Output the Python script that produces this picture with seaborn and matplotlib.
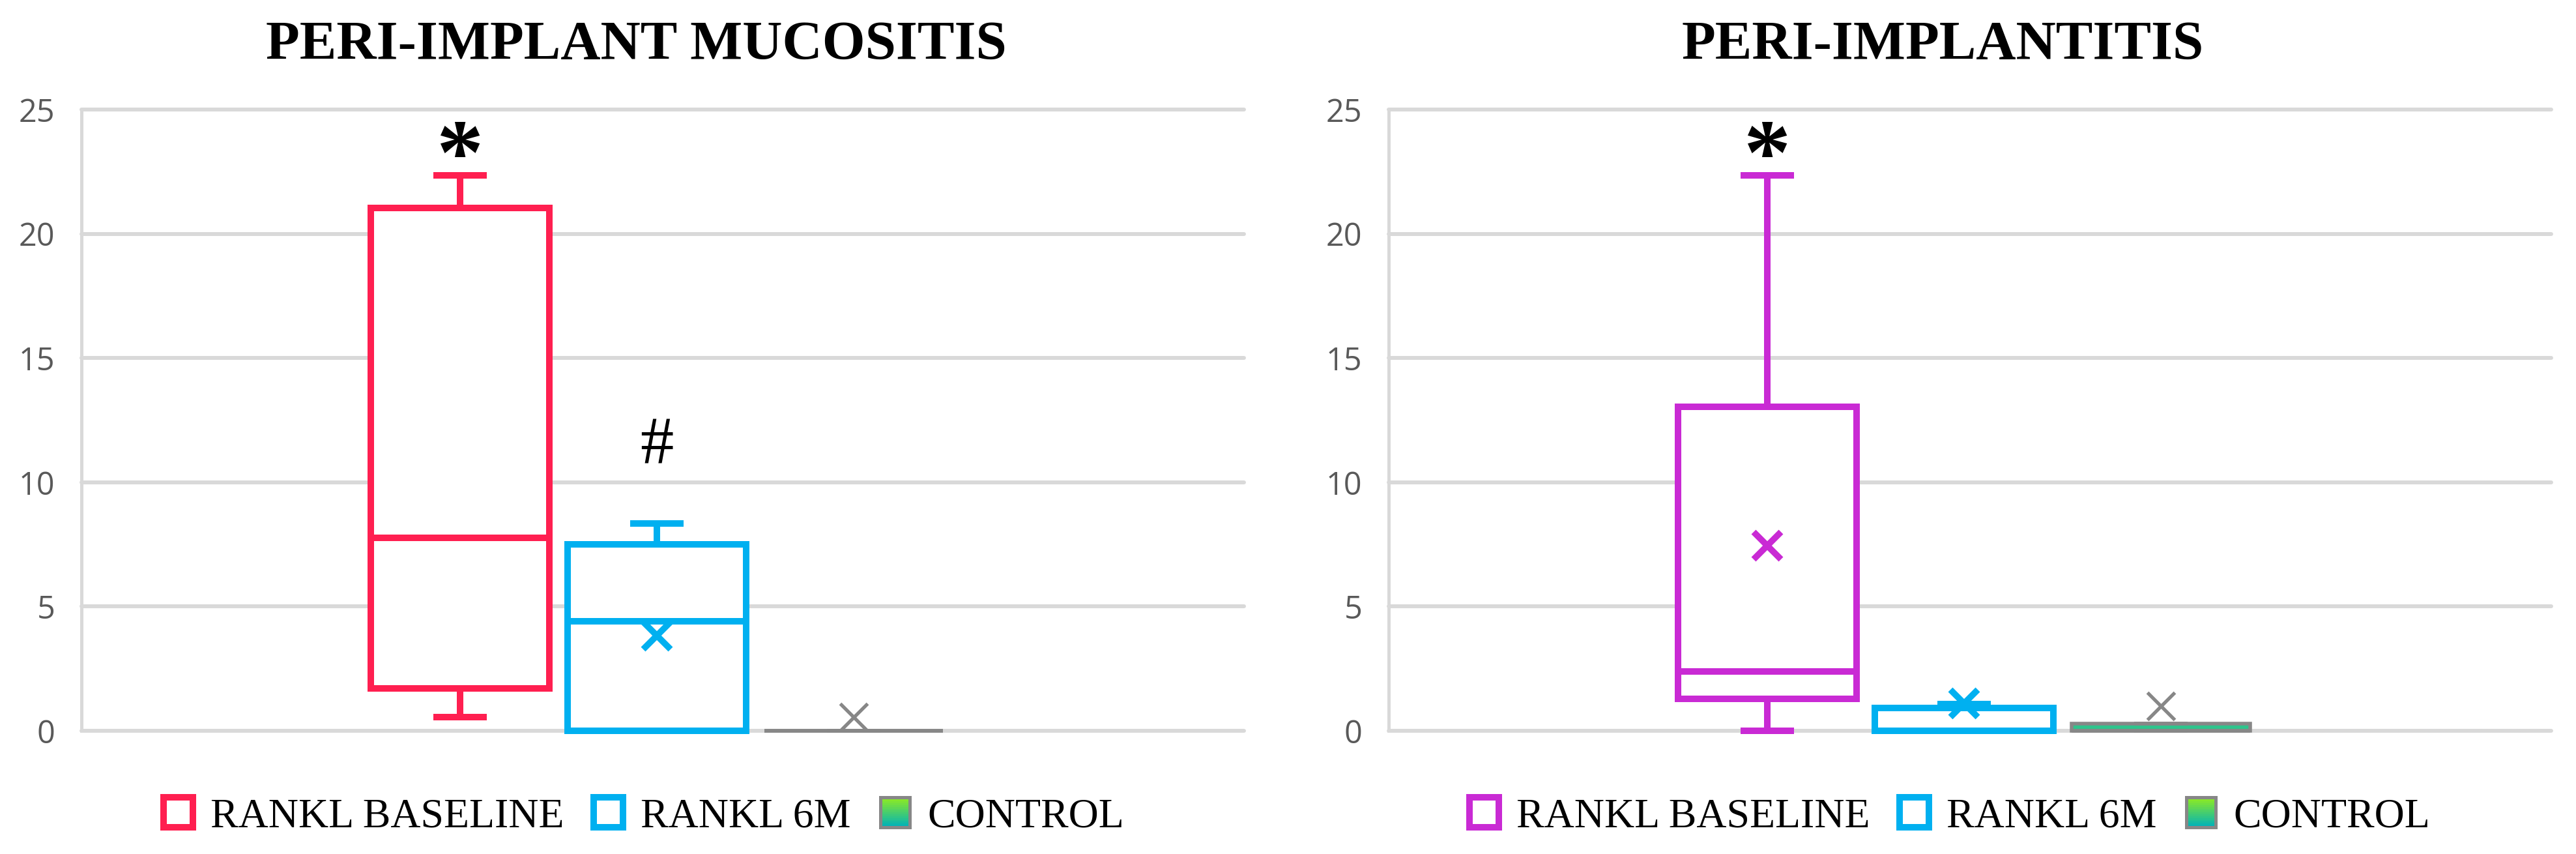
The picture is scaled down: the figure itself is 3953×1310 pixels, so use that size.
import numpy as np
import pandas as pd
import matplotlib
matplotlib.use("Agg")
import matplotlib.pyplot as plt
import matplotlib.colors as mcolors
from matplotlib.patches import Patch, Rectangle
from matplotlib.legend_handler import HandlerBase
import seaborn as sns

# ---------------- data ----------------
groups = ["RANKL BASELINE", "RANKL 6M", "CONTROL"]

# five-number summaries: min, Q1, median, Q3, max
muc_baseline = [0.55, 1.71, 7.76, 21.04, 22.36]
muc_6m = [0.0, 0.0, 4.42, 7.51, 8.34]
muc_control = [0.0, 0.0, 0.0, 0.0, 0.0]
muc_means = [np.nan, 3.84, 0.55]          # baseline mean marker not shown

peri_baseline = [0.0, 1.28, 2.38, 13.04, 22.36]
peri_6m = [0.0, 0.0, 0.0, 0.92, 1.08]
peri_control = [0.0, 0.0, 0.0, 0.30, 0.30]
peri_means = [7.44, 1.10, 1.00]

titles = ["PERI-IMPLANT MUCOSITIS", "PERI-IMPLANTITIS"]
muc_marks = ["*", "#", ""]
peri_marks = ["*", "", ""]
y_ticks = [0, 5, 10, 15, 20, 25]

# ---------------- style ----------------
RED = "#FF1F50"
BLUE = "#00B0F0"
MAGENTA = "#C92AD4"
GRAY = "#878787"
GREEN_FACE = "#2EC48C"
GRID = "#D9D9D9"

sns.set_style("white")
plt.rcParams["font.family"] = ["Liberation Serif", "DejaVu Sans"]
plt.rcParams["text.color"] = "black"

W, H = 3953, 1310
fig = plt.figure(figsize=(W / 100, H / 100), dpi=100)

ax_w = 1784 / W
ax_b = 1 - 1121 / H
ax_h = (1121 - 168) / H
ax1 = fig.add_axes([125 / W, ax_b, ax_w, ax_h])
ax2 = fig.add_axes([2131 / W, ax_b, ax_w, ax_h])

BOX_W = 0.91
LW = 7.2
LW_GRAY = 4.0


def long_df(series):
    rows = []
    for g, vals in zip(groups, series):
        for v in vals:
            rows.append((g, v))
    return pd.DataFrame(rows, columns=["group", "value"])


def draw_panel(ax, series, means, colors, faces, marks, mark_y, mark_sizes):
    df = long_df(series)
    face_pal = dict(zip(groups, faces))
    kw = dict(data=df, x="group", y="value", hue="group", order=groups,
              hue_order=groups, palette=face_pal, saturation=1, width=BOX_W,
              linewidth=LW, whis=1.5, dodge=False, legend=False, ax=ax,
              showfliers=False)
    try:
        sns.boxplot(capwidths=0.3 * BOX_W, **kw)
    except Exception:
        ax.cla()
        sns.boxplot(**kw)

    for p in ax.patches:
        v = p.get_path().vertices
        idx = int(round((v[:, 0].min() + v[:, 0].max()) / 2))
        p.set_edgecolor(colors[idx])
        p.set_clip_on(False)
        p.set_zorder(3)
        if idx == 2:
            p.set_linewidth(LW_GRAY)
    for ln in ax.lines:
        xd = np.asarray(ln.get_xdata(), float)
        if xd.size == 0:
            continue
        idx = int(round(np.nanmean(xd)))
        ln.set_color(colors[idx])
        ln.set_clip_on(False)
        ln.set_zorder(4)
        ln.set_solid_capstyle("butt")
        if idx == 2:
            ln.set_linewidth(LW_GRAY)

    # mean markers, one call per group so each keeps its own colour
    mdf = pd.DataFrame({"group": groups, "mean": means})
    for i, g in enumerate(groups):
        sub = mdf[mdf["group"] == g].dropna()
        if sub.empty:
            continue
        n_before = len(ax.lines)
        sns.pointplot(data=sub, x="group", y="mean", order=groups,
                      color=colors[i], markers="x", errorbar=None, ax=ax,
                      markersize=30, markeredgewidth=(3.8 if i == 2 else 7.0))
        for ln in ax.lines[n_before:]:
            ln.set_clip_on(False)
            ln.set_zorder(6)
            ln.set_markeredgecolor(colors[i])
            ln.set_color(colors[i])

    for i, m in enumerate(marks):
        if m:
            ax.text(i, mark_y[i], m, ha="center", va="baseline",
                    fontsize=mark_sizes[i], family="Liberation Serif",
                    fontweight=("bold" if m == "*" else "normal"),
                    color="black", zorder=7)

    ax.set_xlim(-581 / 302, (1784 - 581) / 302)
    ax.set_ylim(0, 25)
    ax.set_yticks(y_ticks)
    ax.set_xticks([])
    ax.set_xlabel("")
    ax.set_ylabel("")
    ax.yaxis.grid(True, color=GRID, linewidth=4.3)
    ax.xaxis.grid(False)
    for gl in ax.get_ygridlines():
        gl.set_clip_on(False)
    ax.set_axisbelow(True)
    for s in ["top", "right", "bottom"]:
        ax.spines[s].set_visible(False)
    ax.spines["left"].set_color(GRID)
    ax.spines["left"].set_linewidth(3.6)
    ax.tick_params(axis="y", length=0, pad=29, labelsize=35,
                   labelcolor="#595959")
    for t in ax.get_yticklabels():
        t.set_family("Open Sans")


draw_panel(ax1, [muc_baseline, muc_6m, muc_control], muc_means,
           [RED, BLUE, GRAY], ["white", "white", GREEN_FACE],
           muc_marks, [22.0, 10.78, 0], [104, 74, 0])
draw_panel(ax2, [peri_baseline, peri_6m, peri_control], peri_means,
           [MAGENTA, BLUE, GRAY], ["white", "white", GREEN_FACE],
           peri_marks, [22.0, 0, 0], [104, 0, 0])

# ---------------- titles ----------------
fig.text(976 / W, 1 - 91 / H, titles[0], ha="center", va="baseline",
         fontsize=61, fontweight="bold", family="Liberation Serif",
         color="black")
fig.text(2981 / W, 1 - 91 / H, titles[1], ha="center", va="baseline",
         fontsize=61, fontweight="bold", family="Liberation Serif",
         color="black")


# ---------------- legends ----------------
class GradientHandler(HandlerBase):
    def create_artists(self, legend, orig_handle, xdescent, ydescent,
                       width, height, fontsize, trans):
        top = np.array(mcolors.to_rgb("#8EEA22"))
        bot = np.array(mcolors.to_rgb("#00B2B8"))
        n = 16
        arts = []
        for i in range(n):
            f = i / (n - 1)
            c = bot * (1 - f) + top * f
            r = Rectangle((-xdescent, -ydescent + height * i / n), width,
                          height / n + 0.5, facecolor=c, edgecolor="none",
                          transform=trans)
            arts.append(r)
        arts.append(Rectangle((-xdescent, -ydescent), width, height,
                              facecolor="none", edgecolor=GRAY,
                              linewidth=3.6, transform=trans))
        return arts


def add_legend(colors, cx):
    handles = [Patch(facecolor="white", edgecolor=colors[0], linewidth=LW),
               Patch(facecolor="white", edgecolor=colors[1], linewidth=LW)]
    ctrl = Patch(facecolor=GREEN_FACE, edgecolor=GRAY)
    handles.append(ctrl)
    leg = fig.legend(handles, groups, loc="center",
                     bbox_to_anchor=(cx, 1 - 1253 / H), ncol=3, frameon=False,
                     prop=dict(family="Liberation Serif", size=46),
                     handlelength=0.7, handleheight=0.72, handletextpad=0.42,
                     columnspacing=0.72, handler_map={ctrl: GradientHandler()})
    for t in leg.get_texts():
        t.set_color("black")


add_legend([RED, BLUE], 988 / W)
add_legend([MAGENTA, BLUE], 2992 / W)

fig.savefig("out.png", dpi=100)
